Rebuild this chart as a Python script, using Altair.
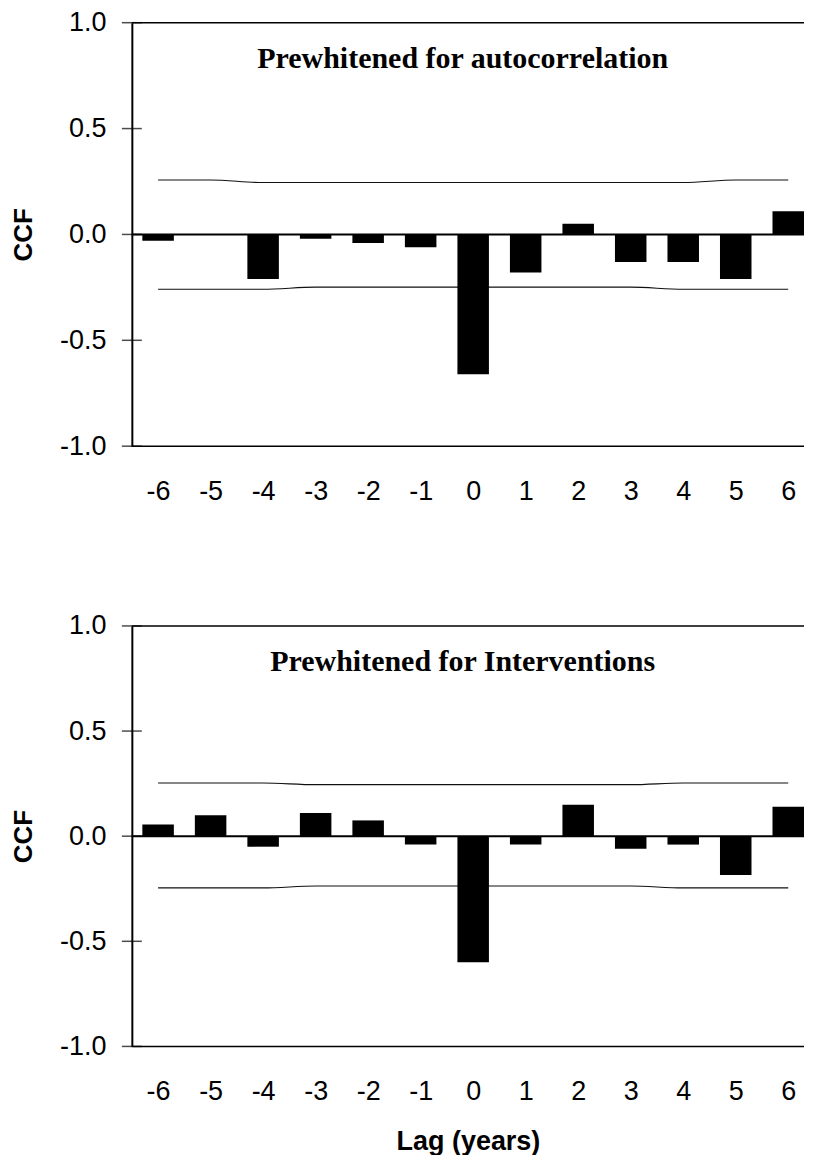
import altair as alt
import pandas as pd

# ---- data ----
lags = [-6, -5, -4, -3, -2, -1, 0, 1, 2, 3, 4, 5, 6]
ccf_autocorr = [-0.03, 0.0, -0.21, -0.02, -0.04, -0.06, -0.66, -0.18, 0.05, -0.13, -0.13, -0.21, 0.11]
ccf_interv = [0.055, 0.10, -0.05, 0.11, 0.075, -0.04, -0.60, -0.04, 0.15, -0.06, -0.04, -0.185, 0.14]
upper_autocorr = [0.257, 0.257, 0.245, 0.245, 0.245, 0.245, 0.245, 0.245, 0.245, 0.245, 0.245, 0.257, 0.257]
lower_autocorr = [-0.259, -0.259, -0.259, -0.249, -0.249, -0.249, -0.249, -0.249, -0.249, -0.249, -0.259, -0.259, -0.259]
upper_interv = [0.253, 0.253, 0.253, 0.245, 0.245, 0.245, 0.245, 0.245, 0.245, 0.245, 0.253, 0.253, 0.253]
lower_interv = [-0.246, -0.246, -0.246, -0.237, -0.237, -0.237, -0.237, -0.237, -0.237, -0.237, -0.246, -0.246, -0.246]
titles = ["Prewhitened for autocorrelation", "Prewhitened for Interventions"]
y_ticks = [-1.0, -0.5, 0.0, 0.5, 1.0]
frame_lines = [1.0, -1.0]

X_DOMAIN = [-6.5, 6.3]
Y_DOMAIN = [-1.0, 1.0]
SANS = "Liberation Sans"
SERIF = "Liberation Serif"


def panel(ccf, upper, lower, title, height, show_xtitle):
    df = pd.DataFrame({"lag": lags, "ccf": ccf, "upper": upper, "lower": lower})
    xs = alt.Scale(domain=X_DOMAIN, nice=False, zero=False)
    ys = alt.Scale(domain=Y_DOMAIN, nice=False)

    xaxis_kw = dict(
        values=lags,
        labelExpr="datum.value < 0 ? '-' + format(-datum.value, 'd') : format(datum.value, 'd')",
        ticks=False, domain=False, grid=False, labelFlush=False, labelOverlap=False,
        labelFont=SANS, labelFontSize=27, labelColor="black", labelPadding=32,
    )
    if show_xtitle:
        xaxis_kw.update(title="Lag (years)", titleFont=SANS, titleFontSize=27,
                        titleFontWeight="bold", titleColor="black", titlePadding=24)
    else:
        xaxis_kw.update(title=None)
    xaxis = alt.Axis(**xaxis_kw)
    yaxis = alt.Axis(
        values=y_ticks,
        labelExpr="datum.value < 0 ? '-' + format(-datum.value, '.1f') : format(datum.value, '.1f')",
        ticks=False, domain=True, domainColor="black", domainWidth=2, grid=False,
        labelFont=SANS, labelFontSize=27, labelColor="black", labelPadding=26,
        title="CCF", titleFont=SANS, titleFontSize=26, titleFontWeight="bold", titleColor="black",
        titlePadding=23,
    )

    base = alt.Chart(df)

    up = base.mark_line(color="#111", strokeWidth=1.1, interpolate="monotone").encode(
        x=alt.X("lag:Q", scale=xs, axis=xaxis),
        y=alt.Y("upper:Q", scale=ys, axis=yaxis),
    )
    low = base.mark_line(color="#111", strokeWidth=1.1, interpolate="monotone").encode(
        x=alt.X("lag:Q", scale=xs),
        y=alt.Y("lower:Q", scale=ys),
    )
    bars = base.transform_calculate(
        lo="datum.lag - 0.3", hi="datum.lag + 0.3", zero="0"
    ).mark_bar(color="black", clip=True).encode(
        x=alt.X("lo:Q", scale=xs),
        x2="hi:Q",
        y=alt.Y("ccf:Q", scale=ys),
        y2="zero:Q",
    )
    frame = alt.Chart(pd.DataFrame({"v": frame_lines})).mark_rule(color="black", strokeWidth=1.5).encode(
        y=alt.Y("v:Q", scale=ys)
    )
    zero_line = alt.Chart(pd.DataFrame({"v": [0.0]})).mark_rule(color="black", strokeWidth=2).encode(
        y=alt.Y("v:Q", scale=ys)
    )
    crossticks = alt.Chart(pd.DataFrame({"v": y_ticks, "xpos": [X_DOMAIN[0]] * len(y_ticks)})).mark_tick(
        color="black", orient="horizontal", size=20, thickness=1.5
    ).encode(
        x=alt.X("xpos:Q", scale=xs),
        y=alt.Y("v:Q", scale=ys),
    )
    label = alt.Chart(pd.DataFrame({"t": [title], "xpos": [-0.2], "ypos": [0.785]})).mark_text(
        font=SERIF, fontSize=30, fontWeight="bold", color="black", align="center", baseline="alphabetic"
    ).encode(
        x=alt.X("xpos:Q", scale=xs),
        y=alt.Y("ypos:Q", scale=ys),
        text="t:N",
    )

    return alt.layer(up, low, bars, frame, zero_line, crossticks, label).properties(
        width=673, height=height
    )


top = panel(ccf_autocorr, upper_autocorr, lower_autocorr, titles[0], 424, False)
bottom = panel(ccf_interv, upper_interv, lower_interv, titles[1], 421, True)

chart = alt.vconcat(top, bottom, spacing=108).properties(
    padding={"left": 2, "top": 0, "right": 0, "bottom": 0},
    background="white",
).configure_view(stroke=None)

chart.save("out.html", embed_options={"renderer": "svg", "actions": False})
